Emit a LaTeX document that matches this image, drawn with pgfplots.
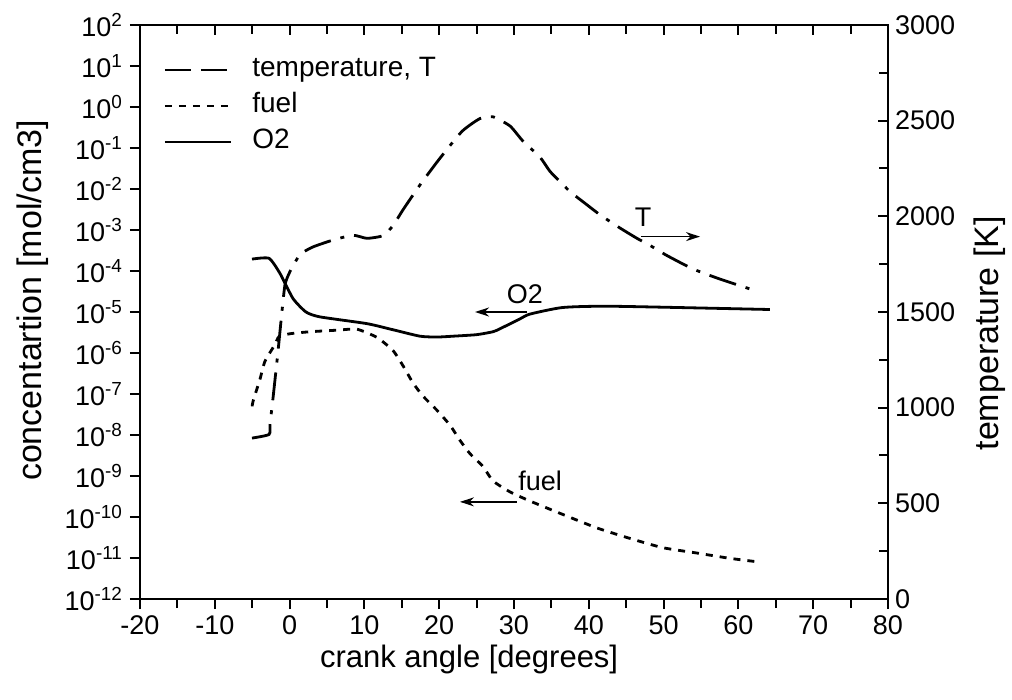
\documentclass[border=0pt]{standalone}
\usepackage{fontspec}
\setmainfont{Liberation Sans}
\usepackage{pgfplots}
\pgfplotsset{compat=1.18}
\usetikzlibrary{arrows.meta}

\pgfplotstableread{
x y
-5.03 1.95e-4
-2.75 2.04e-4
-1.28 8.7e-5
0.45 2.14e-5
2.19 1.0e-5
4.06 7.6e-6
10.35 5.2e-6
13.80 3.7e-6
17.43 2.57e-6
19.71 2.45e-6
21.84 2.57e-6
25.00 2.8e-6
27.19 3.3e-6
28.13 3.9e-6
30.80 6.8e-6
32.14 8.9e-6
36.55 1.29e-5
43.24 1.38e-5
64.22 1.15e-5
}\otwo

\pgfplotstableread{
x y
-5.00 5.0e-8
-4.89 6.6e-8
-3.96 2.3e-7
-3.29 6.3e-7
-1.95 1.62e-6
-1.42 2.5e-6
0.05 2.95e-6
2.73 3.3e-6
6.34 3.6e-6
9.01 3.8e-6
11.68 2.4e-6
13.82 1.15e-6
15.16 4.9e-7
16.50 1.86e-7
17.83 8.9e-8
19.71 4.0e-8
21.44 1.74e-8
22.78 7.4e-9
24.12 3.5e-9
25.86 1.7e-9
27.19 7.6e-10
29.47 4.1e-10
32.14 2.45e-10
36.55 1.15e-10
41.10 5.4e-11
45.51 3.0e-11
49.92 1.78e-11
54.47 1.32e-11
58.88 9.8e-12
62.49 8.1e-12
}\fuel

\pgfplotstableread{
x T
-5.03 841
-2.75 860
-2.62 913
-2.22 1049
-1.55 1294
-1.02 1503
-0.61 1644
0.05 1711
1.39 1800
3.13 1840
5.80 1876
8.48 1901
10.35 1885
12.49 1899
13.82 1951
15.16 2034
17.43 2164
20.11 2304
23.05 2444
25.45 2511
27.19 2520
29.47 2472
31.20 2393
33.48 2309
34.81 2235
36.15 2182
37.49 2129
39.76 2060
41.50 2008
44.17 1939
46.44 1885
48.18 1848
50.45 1795
53.93 1725
57.54 1672
62.22 1612
}\temp

\begin{document}
\begin{tikzpicture}
\pgfplotsset{
  every axis/.append style={
    at={(0,0)}, anchor=south west,
    scale only axis, width=374pt, height=287pt,
    xmin=-20, xmax=80,
    axis line style={line width=1.2pt},
    major tick length=5pt, minor tick length=4.5pt,
    every tick/.style={line width=1pt, black},
    tick label style={font=\fontsize{13.5}{15}\selectfont},
    label style={font=\fontsize{17}{20}\selectfont},
    xtick={-20,-10,...,80},
    minor xtick={-15,-5,...,75},
  }
}
\begin{axis}[
  ymode=log, ymin=1e-12, ymax=1e2,
  tick pos=left, tick align=outside,
  xticklabels={-20,-10,0,10,20,30,40,50,60,70,80},
  ytick={1e-12,1e-11,1e-10,1e-9,1e-8,1e-7,1e-6,1e-5,1e-4,1e-3,1e-2,1e-1,1,10,100},
  yticklabels={10\textsuperscript{-12},10\textsuperscript{-11},10\textsuperscript{-10},10\textsuperscript{-9},10\textsuperscript{-8},10\textsuperscript{-7},10\textsuperscript{-6},10\textsuperscript{-5},10\textsuperscript{-4},10\textsuperscript{-3},10\textsuperscript{-2},10\textsuperscript{-1},10\textsuperscript{0},10\textsuperscript{1},10\textsuperscript{2}},
  minor ytick={},
  yminorticks=false,
  xlabel={crank angle [degrees]},
  ylabel={concentartion [mol/cm3]},
  xlabel style={at={(axis description cs:0.44,-0.106)}, anchor=center, font=\fontsize{15.5}{18}\selectfont},
  ylabel style={at={(axis description cs:-0.144,0.52)}, anchor=center},
]
\addplot[black, line width=1.4pt, line join=round, smooth, tension=0.35] table[x=x,y=y] {\otwo};
\addplot[black, line width=1.4pt, dash pattern=on 3.5pt off 3.5pt, smooth, tension=0.35] table[x=x,y=y] {\fuel};

\draw[-{Stealth[length=7pt,width=4.5pt]}, line width=0.7pt] (axis cs:46.98,6.9e-4) -- (axis cs:54.87,6.9e-4);
\node[font=\fontsize{13.5}{15}\selectfont, inner sep=0pt] at (axis cs:47.25,2.04e-3) {T};
\draw[-{Stealth[length=7pt,width=4.5pt]}, line width=0.7pt] (axis cs:31.74,1e-5) -- (axis cs:24.79,1e-5);
\node[font=\fontsize{13.5}{15}\selectfont, inner sep=0pt] at (axis cs:31.47,2.75e-5) {O2};
\draw[-{Stealth[length=7pt,width=4.5pt]}, line width=0.7pt] (axis cs:30.4,2.34e-10) -- (axis cs:22.78,2.34e-10);
\node[font=\fontsize{13.5}{15}\selectfont, inner sep=0pt] at (axis cs:33.48,7.6e-10) {fuel};
\end{axis}

\begin{axis}[
  ymin=0, ymax=3000,
  tick pos=right, tick align=inside,
  xticklabels={},
  ytick={0,500,...,3000},
  minor ytick={250,750,...,2750},
  yticklabel pos=right,
  yticklabels={0,500,1000,1500,2000,2500,3000},
  ylabel={temperature [K]},
  ylabel style={at={(axis description cs:1.136,0.463)}, anchor=center},
  legend style={draw=none, fill=none, at={(axis description cs:0.031,0.95)}, anchor=north west,
    font=\fontsize{14}{16}\selectfont, inner sep=0pt, row sep=2pt,
    nodes={text height=9pt, text depth=3pt, inner sep=2pt},
    /tikz/every odd column/.append style={column sep=8pt}},
  legend cell align=left,
  legend image code/.code={\draw[#1] (0pt,0pt) -- (33pt,0pt);},
]
\addlegendimage{black, line width=1.4pt, dash pattern=on 13pt off 5pt}
\addlegendentry{temperature, T}
\addlegendimage{black, line width=1.4pt, dash pattern=on 3.5pt off 3.5pt}
\addlegendentry{fuel}
\addlegendimage{black, line width=1.4pt}
\addlegendentry{O2}
\addplot[black, line width=1.4pt, dash pattern=on 14pt off 5pt on 2pt off 5pt, smooth, tension=0.35, forget plot] table[x=x,y=T] {\temp};
\end{axis}
\pgfresetboundingbox
\path (-70pt,-50.5pt) rectangle (436pt,299.5pt);
\end{tikzpicture}
\end{document}
